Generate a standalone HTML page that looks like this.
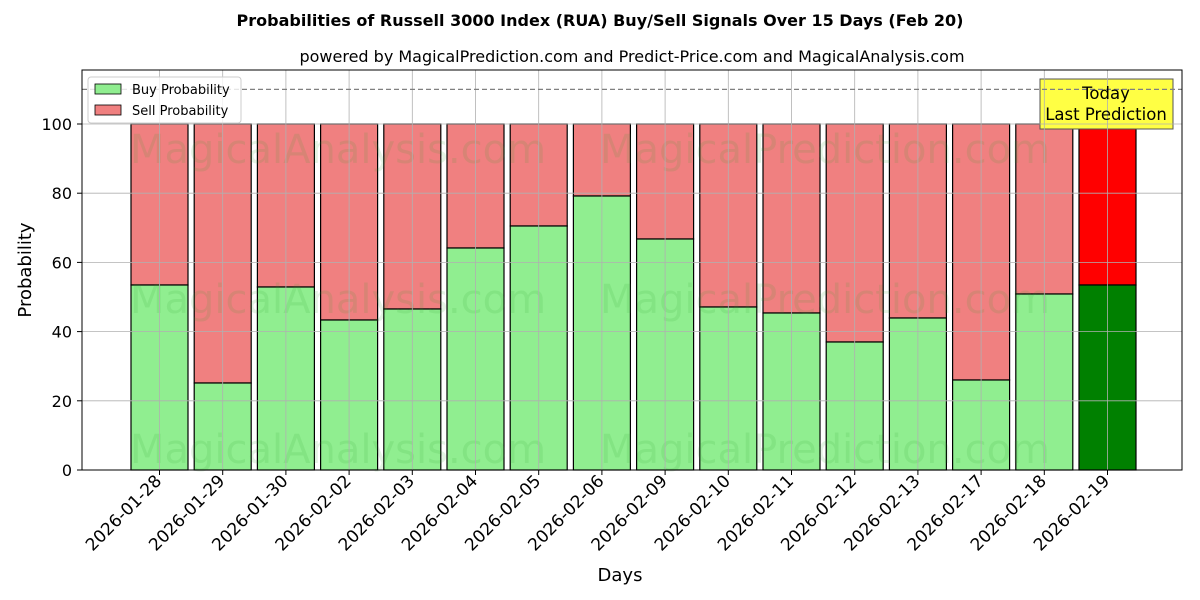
<!DOCTYPE html>
<html><head><meta charset="utf-8"><style>
body{margin:0;background:#fff}
svg{display:block;font-family:"DejaVu Sans","Liberation Sans",sans-serif}
</style></head><body>
<svg width="1200" height="600" viewBox="0 0 1200 600" xmlns="http://www.w3.org/2000/svg">
<rect width="1200" height="600" fill="#fff"/>
<text x="600" y="26" text-anchor="middle" font-size="16" font-weight="bold">Probabilities of Russell 3000 Index (RUA) Buy/Sell Signals Over 15 Days (Feb 20)</text>
<text x="632" y="62" text-anchor="middle" font-size="16">powered by MagicalPrediction.com and Predict-Price.com and MagicalAnalysis.com</text>
<g id="bars" stroke="#000" stroke-width="1.2"></g>
<g font-size="40" fill="#2ca02c" fill-opacity="0.13" stroke="none">
<text x="130" y="163">MagicalAnalysis.com</text><text x="600" y="163">MagicalPrediction.com</text>
<text x="130" y="313">MagicalAnalysis.com</text><text x="600" y="313">MagicalPrediction.com</text>
<text x="130" y="463">MagicalAnalysis.com</text><text x="600" y="463">MagicalPrediction.com</text>
</g>
<rect x="1040" y="79" width="133" height="50" fill="#ffff44" stroke="#555"/>
<g stroke="#b0b0b0" stroke-width="0.8" id="grid"></g>
<line x1="82" y1="89.4" x2="1182" y2="89.4" stroke="#808080" stroke-width="1.2" stroke-dasharray="5,3"/>
<rect x="82" y="70" width="1100" height="400" fill="none" stroke="#000" stroke-width="1"/>
<g id="ticks" font-size="16"></g>
<text x="620" y="581" text-anchor="middle" font-size="18">Days</text>
<text transform="translate(31,270) rotate(-90)" text-anchor="middle" font-size="18">Probability</text>
<rect x="88" y="77" width="153" height="46" rx="3" fill="#fff" fill-opacity="0.8" stroke="#ccc"/>
<rect x="95" y="84" width="26" height="10" fill="#90ee90" stroke="#000" stroke-width="0.8"/>
<text x="132" y="94" font-size="13">Buy Probability</text>
<rect x="95" y="105" width="26" height="10" fill="#f08080" stroke="#000" stroke-width="0.8"/>
<text x="132" y="115" font-size="13">Sell Probability</text>
<text x="1106" y="99" text-anchor="middle" font-size="16.5">Today</text>
<text x="1106" y="120" text-anchor="middle" font-size="16.5">Last Prediction</text>
</svg>
<script>
const ns="http://www.w3.org/2000/svg";
const ys=[285,383,287,320,309,248,226,196,239,307,313,342,318,380,294,285];
const d=["2026-01-28","2026-01-29","2026-01-30","2026-02-02","2026-02-03","2026-02-04","2026-02-05","2026-02-06","2026-02-09","2026-02-10","2026-02-11","2026-02-12","2026-02-13","2026-02-17","2026-02-18","2026-02-19"];
const b=document.getElementById("bars"),g=document.getElementById("grid"),t=document.getElementById("ticks");
function el(p,n,a,txt){const e=document.createElementNS(ns,n);for(const k in a)e.setAttribute(k,a[k]);if(txt)e.textContent=txt;p.appendChild(e);return e;}
ys.forEach((y,i)=>{const c=159.5+i*63.2,x=c-28.5,last=i==15;
el(b,"rect",{x:x,y:124,width:57,height:y-124,fill:last?"#ff0000":"#f08080"});
el(b,"rect",{x:x,y:y,width:57,height:470-y,fill:last?"#008000":"#90ee90"});
el(g,"line",{x1:c,y1:70,x2:c,y2:470});
el(t,"line",{x1:c,y1:470,x2:c,y2:475,stroke:"#000"});
el(t,"text",{"text-anchor":"end","font-size":"17",transform:`translate(${c+3},${482}) rotate(-45)`},d[i]);});
for(let v=0;v<=100;v+=20){const y=470-v*3.46;
el(g,"line",{x1:82,y1:y,x2:1182,y2:y});
el(t,"line",{x1:77,y1:y,x2:82,y2:y,stroke:"#000"});
el(t,"text",{x:72,y:y+6,"text-anchor":"end"},String(v));}
</script>
</body></html>
